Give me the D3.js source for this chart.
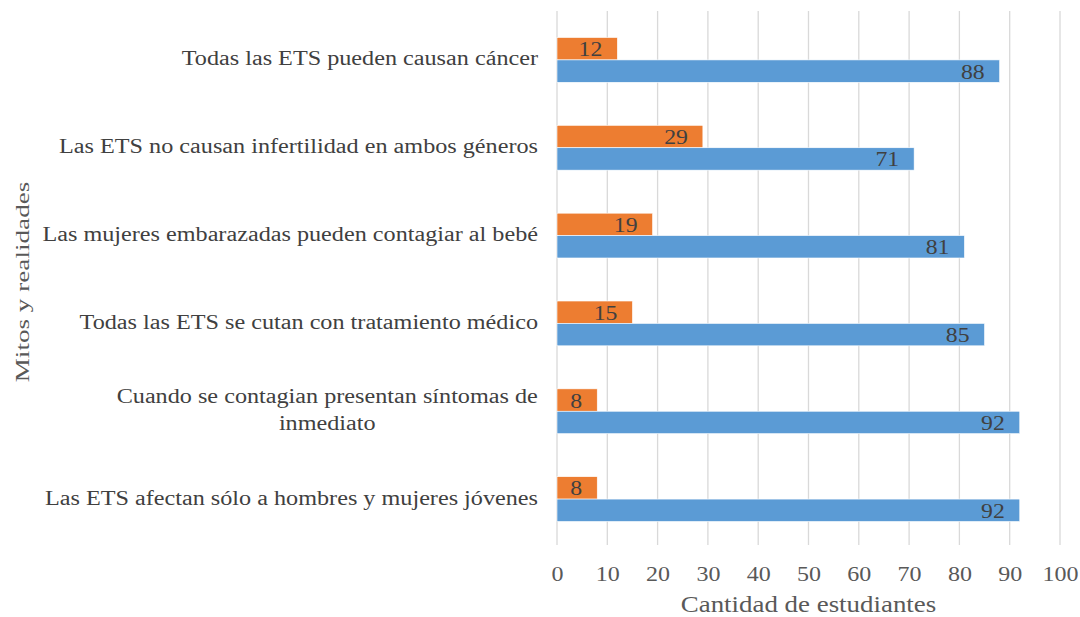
<!DOCTYPE html>
<html>
<head>
<meta charset="utf-8">
<script src="https://cdn.jsdelivr.net/npm/d3@7"></script>
<style>
  body { margin: 0; background: #fff; }
</style>
</head>
<body>
<div id="chart"></div>
<script>
var serif = "'Liberation Serif', 'Times New Roman', serif";

// categories, top to bottom
var categories = [
  ["Todas las ETS pueden causan cáncer"],
  ["Las ETS no causan infertilidad en ambos géneros"],
  ["Las mujeres embarazadas pueden contagiar al bebé"],
  ["Todas las ETS se cutan con tratamiento médico"],
  ["Cuando se contagian presentan síntomas de", "inmediato"],
  ["Las ETS afectan sólo a hombres y mujeres jóvenes"]
];
var seriesKeys = ["orange", "blue"];
var orangeValues = [12, 29, 19, 15, 8, 8];
var blueValues = [88, 71, 81, 85, 92, 92];
var xTicks = [0, 10, 20, 30, 40, 50, 60, 70, 80, 90, 100];

var width = 1080, height = 617;
var margin = {top: 16, right: 20, bottom: 74, left: 557};
// the picture is a bit wider than tall, so text is stretched sideways
var stretch = 1.21;

var svg = d3.select("#chart").append("svg")
  .attr("width", width)
  .attr("height", height)
  .style("font-family", serif);

var x = d3.scaleLinear()
  .domain([0, 100])
  .range([margin.left, 1060]);

var y = d3.scaleBand()
  .domain(d3.range(categories.length))
  .range([margin.top, height - margin.bottom])
  .paddingInner(0.49)
  .paddingOuter(0.245);

var ySub = d3.scaleBand()
  .domain(seriesKeys)
  .range([0, y.bandwidth()]);

var color = d3.scaleOrdinal()
  .domain(seriesKeys)
  .range(["#ED7D31", "#5B9BD5"]);

// gridlines
svg.append("g")
  .selectAll("line")
  .data(xTicks)
  .enter().append("line")
    .attr("x1", function(d) { return x(d); })
    .attr("x2", function(d) { return x(d); })
    .attr("y1", margin.top - 5)
    .attr("y2", height - margin.bottom + 2)
    .attr("stroke", "#d9d9d9")
    .attr("stroke-width", 1.3);

// bars
var rows = categories.map(function(c, i) {
  return [
    {key: "orange", i: i, value: orangeValues[i]},
    {key: "blue", i: i, value: blueValues[i]}
  ];
});

var groups = svg.append("g")
  .selectAll("g")
  .data(rows)
  .enter().append("g")
    .attr("transform", function(d, i) { return "translate(0," + y(i) + ")"; });

groups.selectAll("rect")
  .data(function(d) { return d; })
  .enter().append("rect")
    .attr("x", x(0))
    .attr("y", function(d) { return ySub(d.key); })
    .attr("width", function(d) { return x(d.value) - x(0); })
    .attr("height", ySub.bandwidth())
    .attr("fill", function(d) { return color(d.key); })
    .attr("stroke", "#fff")
    .attr("stroke-width", 0.6);

groups.selectAll("text.val")
  .data(function(d) { return d; })
  .enter().append("text")
    .attr("class", "val")
    .attr("transform", function(d) {
      return "translate(" + (x(d.value) - 15) + "," + (ySub(d.key) + ySub.bandwidth() / 2 + 7.5) + ") scale(1.08,1)";
    })
    .attr("text-anchor", "end")
    .attr("fill", "#404040")
    .style("font-size", "22px")
    .text(function(d) { return d.value; });

// x axis labels
var xAxis = d3.axisBottom(x)
  .tickValues(xTicks)
  .tickSize(0)
  .tickPadding(0);

var gx = svg.append("g")
  .attr("transform", "translate(0," + (height - margin.bottom) + ")")
  .call(xAxis);
gx.attr("font-family", null).attr("font-size", null);
gx.select(".domain").remove();
gx.selectAll("text")
  .attr("y", 0)
  .attr("dy", null)
  .attr("transform", "translate(0,38) scale(1.2,1)")
  .attr("fill", "#595959")
  .style("font-size", "20px");

// category labels
var labelX = 538;
svg.append("g")
  .selectAll("text")
  .data(categories)
  .enter().append("text")
    .attr("fill", "#404040")
    .style("font-size", "20px")
    .each(function(lines, i) {
      var t = d3.select(this);
      var cy = y(i) + y.bandwidth() / 2;
      if (lines.length === 1) {
        t.attr("transform", "translate(" + labelX + "," + (cy + 5.5) + ") scale(" + stretch + ",1)")
          .attr("text-anchor", "end").text(lines[0]);
      } else {
        t.attr("text-anchor", "middle");
        lines.forEach(function(l, k) {
          t.append("tspan").attr("x", 0)
            .attr("y", (k - (lines.length - 1) / 2) * 27)
            .text(l);
        });
        var w = this.getBBox().width * stretch;
        t.attr("transform", "translate(" + (labelX - w / 2) + "," + (cy + 5.5) + ") scale(" + stretch + ",1)");
      }
    });

// axis titles
svg.append("text")
  .attr("transform", "translate(" + x(50) + ",612) scale(1.17,1)")
  .attr("text-anchor", "middle")
  .attr("fill", "#595959")
  .style("font-size", "23px")
  .text("Cantidad de estudiantes");

svg.append("text")
  .attr("transform", "translate(29,282) rotate(-90) scale(1.43,1)")
  .attr("text-anchor", "middle")
  .attr("fill", "#595959")
  .style("font-size", "19px")
  .text("Mitos y realidades");
</script>
</body>
</html>
